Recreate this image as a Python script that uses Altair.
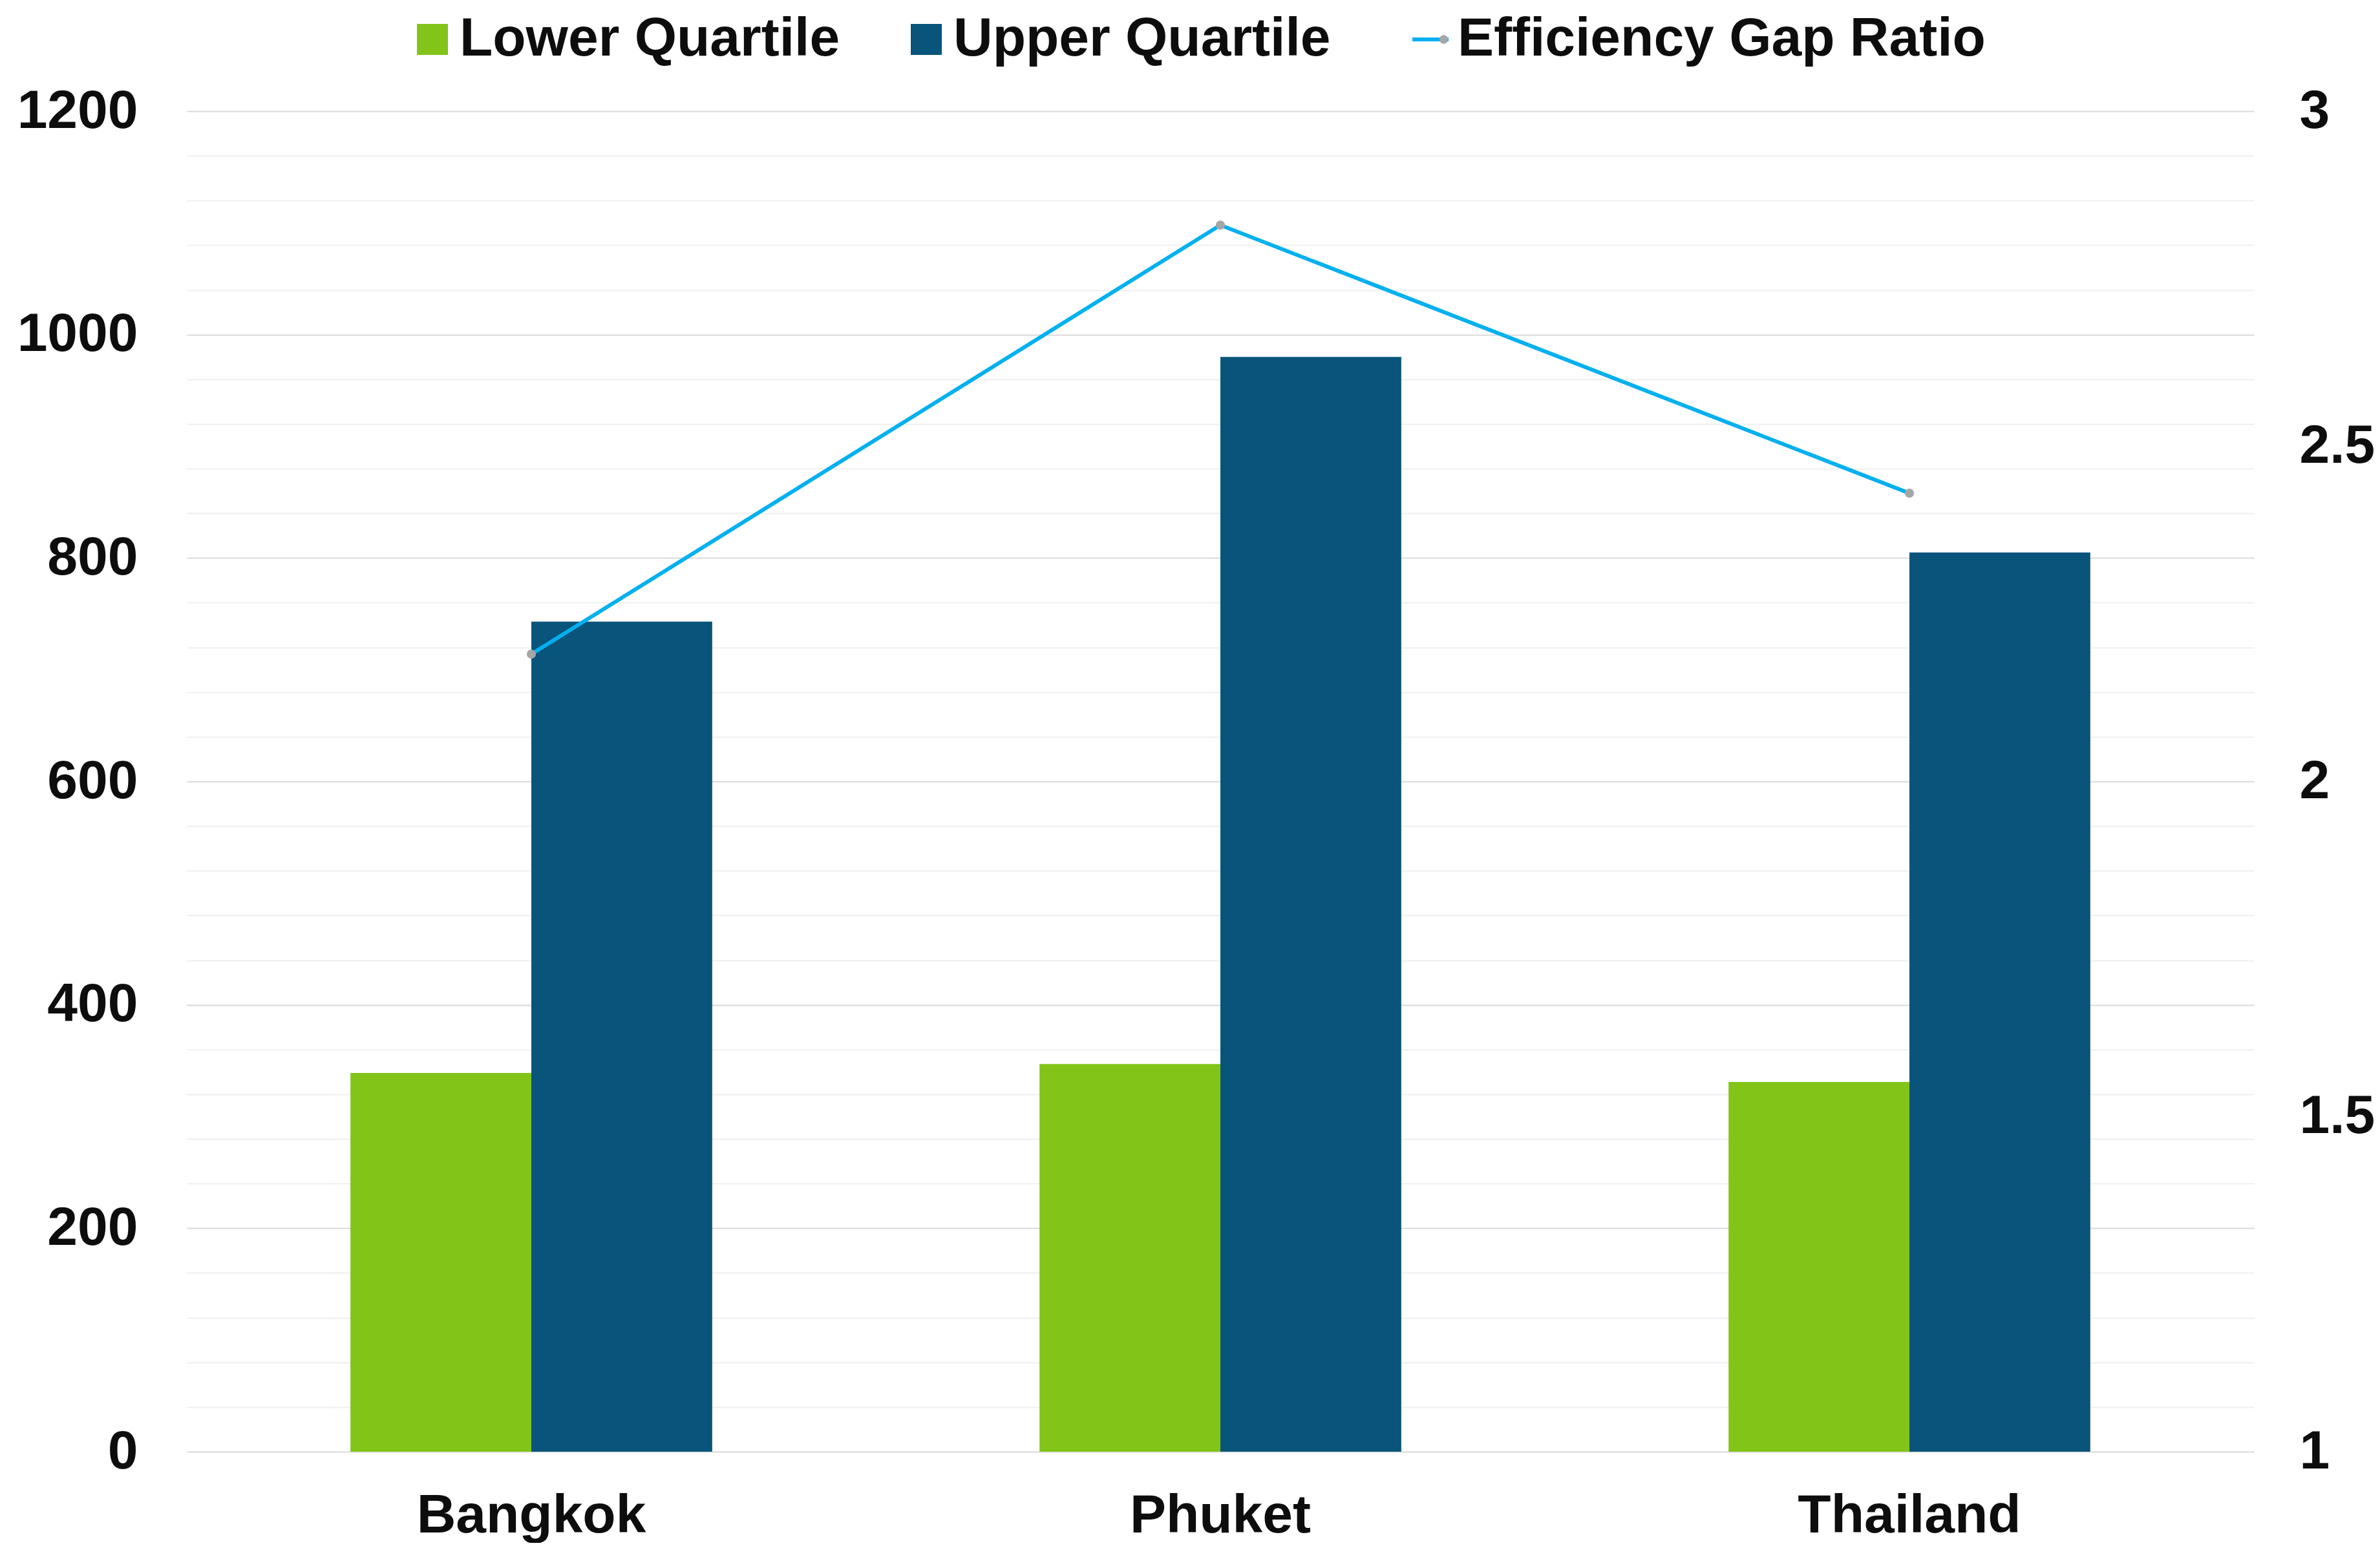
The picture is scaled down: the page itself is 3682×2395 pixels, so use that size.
import altair as alt
import pandas as pd

cities = ["Bangkok", "Phuket", "Thailand"]
lower_quartile = [339, 347, 331]
upper_quartile = [743, 980, 805]
gap_ratio = [2.19, 2.83, 2.43]

bar_series = ["Lower Quartile", "Upper Quartile"]
bar_colors = ["#82C418", "#08547A"]
line_name = "Efficiency Gap Ratio"
marker_name = "Efficiency Gap Ratio marker"
line_color = "#00B0F0"
point_color = "#A6A6A6"
left_ticks = list(range(0, 1201, 40))
right_ticks = [1, 1.5, 2, 2.5, 3]

bar_rows = []
for c, lo, up in zip(cities, lower_quartile, upper_quartile):
    bar_rows.append({"city": c, "series": bar_series[0], "value": lo})
    bar_rows.append({"city": c, "series": bar_series[1], "value": up})
df_bars = pd.DataFrame(bar_rows)
df_line = pd.DataFrame({
    "city": cities,
    "ratio": gap_ratio,
    "line_series": [line_name] * len(cities),
    "marker_series": [marker_name] * len(cities),
})

FONT = "Liberation Sans"
LEG_Y = -153
LINE_LEG_X = 1882
leg_common = dict(
    title=None, orient="none", legendY=LEG_Y, direction="horizontal",
    labelFont=FONT, labelFontSize=84, labelFontWeight="bold",
    labelLimit=0, padding=0,
)

x_enc = alt.X(
    "city:N",
    sort=cities,
    title=None,
    scale=alt.Scale(paddingInner=0.475, paddingOuter=0.2375),
    axis=alt.Axis(labelAngle=0, ticks=False, domain=False, labelPadding=58, grid=False),
)

bars = alt.Chart(df_bars).mark_bar().encode(
    x=x_enc,
    xOffset=alt.XOffset("series:N", sort=bar_series,
                        scale=alt.Scale(paddingInner=0, paddingOuter=0)),
    y=alt.Y(
        "value:Q",
        title=None,
        scale=alt.Scale(domain=[0, 1200], nice=False, zero=True),
        axis=alt.Axis(
            values=left_ticks,
            format="d",
            labelExpr="datum.value % 200 === 0 ? datum.label : ''",
            labelOverlap=False,
            ticks=False,
            domain=False,
            labelPadding=76,
            grid=True,
            gridWidth=2,
            gridColor={"condition": {"test": "datum.value % 200 === 0", "value": "#d9d9d9"},
                       "value": "#efefef"},
        ),
    ),
    color=alt.Color(
        "series:N",
        scale=alt.Scale(domain=bar_series, range=bar_colors),
        legend=alt.Legend(
            legendX=338, symbolType="square", symbolSize=2304, symbolStrokeWidth=0,
            labelOffset=0, columnPadding=91, labelColor="#0d0d0d", **leg_common,
        ),
    ),
)

y_right = alt.Y(
    "ratio:Q",
    title=None,
    scale=alt.Scale(domain=[1, 3], nice=False, zero=False),
    axis=alt.Axis(orient="right", values=right_ticks, format="~g", ticks=False,
                  domain=False, grid=False, labelPadding=70),
)

line = alt.Chart(df_line).mark_line(strokeWidth=6).encode(
    x=alt.X("city:N", sort=cities),
    y=y_right,
    stroke=alt.Stroke(
        "line_series:N",
        scale=alt.Scale(domain=[line_name], range=[line_color]),
        legend=alt.Legend(legendX=LINE_LEG_X, symbolType="stroke", symbolSize=3136,
                          symbolStrokeWidth=6, labelOffset=0, labelColor="#0d0d0d",
                          **leg_common),
    ),
)
points = alt.Chart(df_line).mark_point(filled=True, color=point_color, size=200, opacity=1).encode(
    x=alt.X("city:N", sort=cities),
    y=y_right,
    shape=alt.Shape(
        "marker_series:N",
        scale=alt.Scale(domain=[marker_name], range=["circle"]),
        legend=alt.Legend(legendX=LINE_LEG_X + 28 - 7.5, symbolSize=177, symbolStrokeWidth=0,
                          symbolFillColor=point_color, labelExpr="''",
                          labelOffset=0, labelColor="transparent", **leg_common),
    ),
)

chart = (
    alt.layer(bars, alt.layer(line, points))
    .resolve_scale(y="independent")
    .properties(
        width=3666,
        height=2379,
        autosize=alt.AutoSizeParams(type="fit", contains="padding"),
        padding={"left": 18, "top": 122, "right": 0, "bottom": 0},
    )
    .configure_axis(labelFont=FONT, labelFontSize=84, labelFontWeight="bold",
                    labelColor="#0d0d0d", labelLimit=0)
    .configure_view(stroke=None)
)

chart.save("out.html", embed_options={"renderer": "svg", "actions": False})
